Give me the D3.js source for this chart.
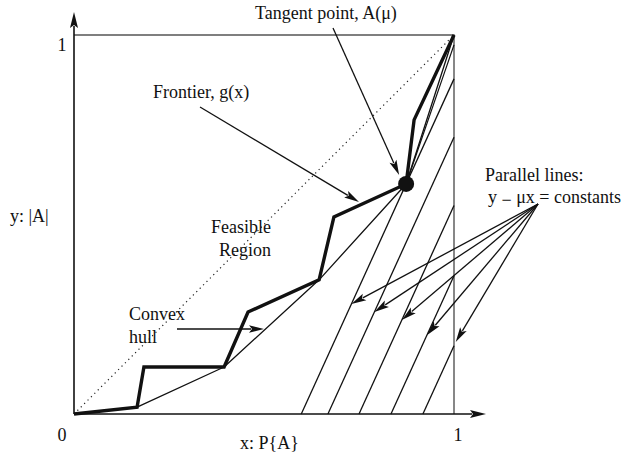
<!DOCTYPE html>
<html>
<head>
<meta charset="utf-8">
<script src="https://cdn.jsdelivr.net/npm/d3@7"></script>
<style>
  html, body { margin: 0; padding: 0; background: #fff; }
  svg { display: block; }
  text { font-family: "Liberation Serif", "Times New Roman", serif; font-size: 18px; fill: #111; }
</style>
</head>
<body>
<svg id="chart" width="628" height="458"></svg>
<script>
// Frontier g(x): the staircase of achievable (P{A}, |A|) pairs
const frontierX = [0, 0.166, 0.184, 0.395, 0.458, 0.645, 0.684, 0.874, 0.895, 1];
const frontierY = [0, 0.018, 0.124, 0.124, 0.269, 0.354, 0.520, 0.607, 0.776, 1];

// Lower convex hull of the frontier
const hullX = [0, 0.166, 0.395, 0.645, 0.874, 1];
const hullY = [0, 0.018, 0.124, 0.354, 0.607, 1];

// Tangent point A(mu)
const tangentPoint = [0.874, 0.607];

// Slope mu and the constants of the lines y - mu x = c
const mu = 2.2;
const lineConstants = [0.607 - 2.2 * 0.874, -1.470, -1.650, -1.835, -2.020];
// height (data units) at which each arrow meets its line
const arrowHitY = [0.290, 0.269, 0.248, 0.208, 0.190];

// Extra chord drawn from the tangent point to the right edge
const chordEnd = [1, 0.974];

const axisTicks = [0, 1];
const axisTickLabels = ["0", "1"];

const svg = d3.select("#chart");
const x = d3.scaleLinear().domain([0, 1]).range([74, 454]);
const y = d3.scaleLinear().domain([0, 1]).range([414, 35]);

function arrowHead(g, x1, y1, x2, y2, len, hw) {
  const dx = x2 - x1, dy = y2 - y1, d = Math.hypot(dx, dy);
  const ux = dx / d, uy = dy / d;
  const bx = x2 - ux * len, by = y2 - uy * len;
  g.append("path")
    .attr("d", `M${x2},${y2}L${bx - uy * hw},${by + ux * hw}L${bx + ux * 3},${by + uy * 3}L${bx + uy * hw},${by - ux * hw}Z`)
    .attr("fill", "#111");
}
function arrow(g, x1, y1, x2, y2, len = 15, hw = 3.8, w = 1.3) {
  const d = Math.hypot(x2 - x1, y2 - y1);
  const ex = x2 - (x2 - x1) / d * (len - 2), ey = y2 - (y2 - y1) / d * (len - 2);
  g.append("line").attr("x1", x1).attr("y1", y1).attr("x2", ex).attr("y2", ey)
    .attr("stroke", "#111").attr("stroke-width", w);
  arrowHead(g, x1, y1, x2, y2, len, hw);
}

// Unit box (top and right edges)
svg.append("path")
  .attr("d", `M${x(0)},${y(1)}H${x(1)}V${y(0)}`)
  .attr("fill", "none").attr("stroke", "#555").attr("stroke-width", 1.4);

// Diagonal y = x
svg.append("line")
  .attr("x1", x(0)).attr("y1", y(0)).attr("x2", x(1)).attr("y2", y(1))
  .attr("stroke", "#222").attr("stroke-width", 1.2)
  .attr("stroke-dasharray", "1.2,3.6");

// Parallel lines y = mu x + c, clipped to the unit box
const lineG = svg.append("g");
lineConstants.forEach(c => {
  const x0 = Math.max(0, -c / mu);
  const x1 = Math.min(1, (1 - c) / mu);
  lineG.append("line")
    .attr("x1", x(x0)).attr("y1", y(mu * x0 + c))
    .attr("x2", x(x1)).attr("y2", y(mu * x1 + c))
    .attr("stroke", "#111").attr("stroke-width", 1.3);
});

// Chord from the tangent point
svg.append("line")
  .attr("x1", x(tangentPoint[0])).attr("y1", y(tangentPoint[1]))
  .attr("x2", x(chordEnd[0])).attr("y2", y(chordEnd[1]))
  .attr("stroke", "#111").attr("stroke-width", 1.2);

// Convex hull
const line = d3.line().x(d => x(d[0])).y(d => y(d[1]));
svg.append("path")
  .datum(hullX.map((v, i) => [v, hullY[i]]))
  .attr("d", line).attr("fill", "none")
  .attr("stroke", "#111").attr("stroke-width", 1.3).attr("stroke-linejoin", "round");

// Frontier
svg.append("path")
  .datum(frontierX.map((v, i) => [v, frontierY[i]]))
  .attr("d", line).attr("fill", "none")
  .attr("stroke", "#111").attr("stroke-width", 3.4).attr("stroke-linejoin", "miter");

// Axes with arrowheads
const axG = svg.append("g");
arrow(axG, x(0), y(0), 486, y(0), 16, 4, 1.6);
arrow(axG, x(0), y(0), x(0), 12, 16, 4, 1.6);

// Tangent point marker
svg.append("circle")
  .attr("cx", x(tangentPoint[0])).attr("cy", y(tangentPoint[1]))
  .attr("r", 8).attr("fill", "#111");

// Annotation arrows
const ann = svg.append("g");
arrow(ann, 333, 28, x(tangentPoint[0]) - 7, y(tangentPoint[1]) - 9);
arrow(ann, 200, 107, 359, 202);
arrow(ann, 177, 329, 264, 329);
lineConstants.forEach((c, i) => {
  const hy = arrowHitY[i];
  arrow(ann, 538, 204, x((hy - c) / mu), y(hy));
});

// Tick labels
svg.append("text").attr("x", x(axisTicks[0]) - 12).attr("y", 441)
  .attr("text-anchor", "middle").text(axisTickLabels[0]);
svg.append("text").attr("x", x(axisTicks[1]) + 4).attr("y", 441)
  .attr("text-anchor", "middle").text(axisTickLabels[1]);
svg.append("text").attr("x", x(0) - 12).attr("y", y(axisTicks[1]) + 16)
  .attr("text-anchor", "middle").text(axisTickLabels[1]);

// Axis titles
svg.append("text").attr("x", 240).attr("y", 449).text("x: P{A}");
svg.append("text").attr("x", 10).attr("y", 222).text("y: |A|");

// Labels
svg.append("text").attr("x", 255).attr("y", 19).text("Tangent point, A(μ)");
svg.append("text").attr("x", 153).attr("y", 98).text("Frontier, g(x)");
svg.append("text").attr("x", 271).attr("y", 233).attr("text-anchor", "end").text("Feasible");
svg.append("text").attr("x", 271).attr("y", 256).attr("text-anchor", "end").text("Region");
svg.append("text").attr("x", 129).attr("y", 320).text("Convex");
svg.append("text").attr("x", 129).attr("y", 343).text("hull");
svg.append("text").attr("x", 485).attr("y", 181).text("Parallel lines:");
const eq = svg.append("text").attr("x", 488).attr("y", 203);
eq.append("tspan").text("y ");
eq.append("tspan").attr("dy", 3).text("−");
eq.append("tspan").attr("dy", -3).text(" μx = constants");
</script>
</body>
</html>
